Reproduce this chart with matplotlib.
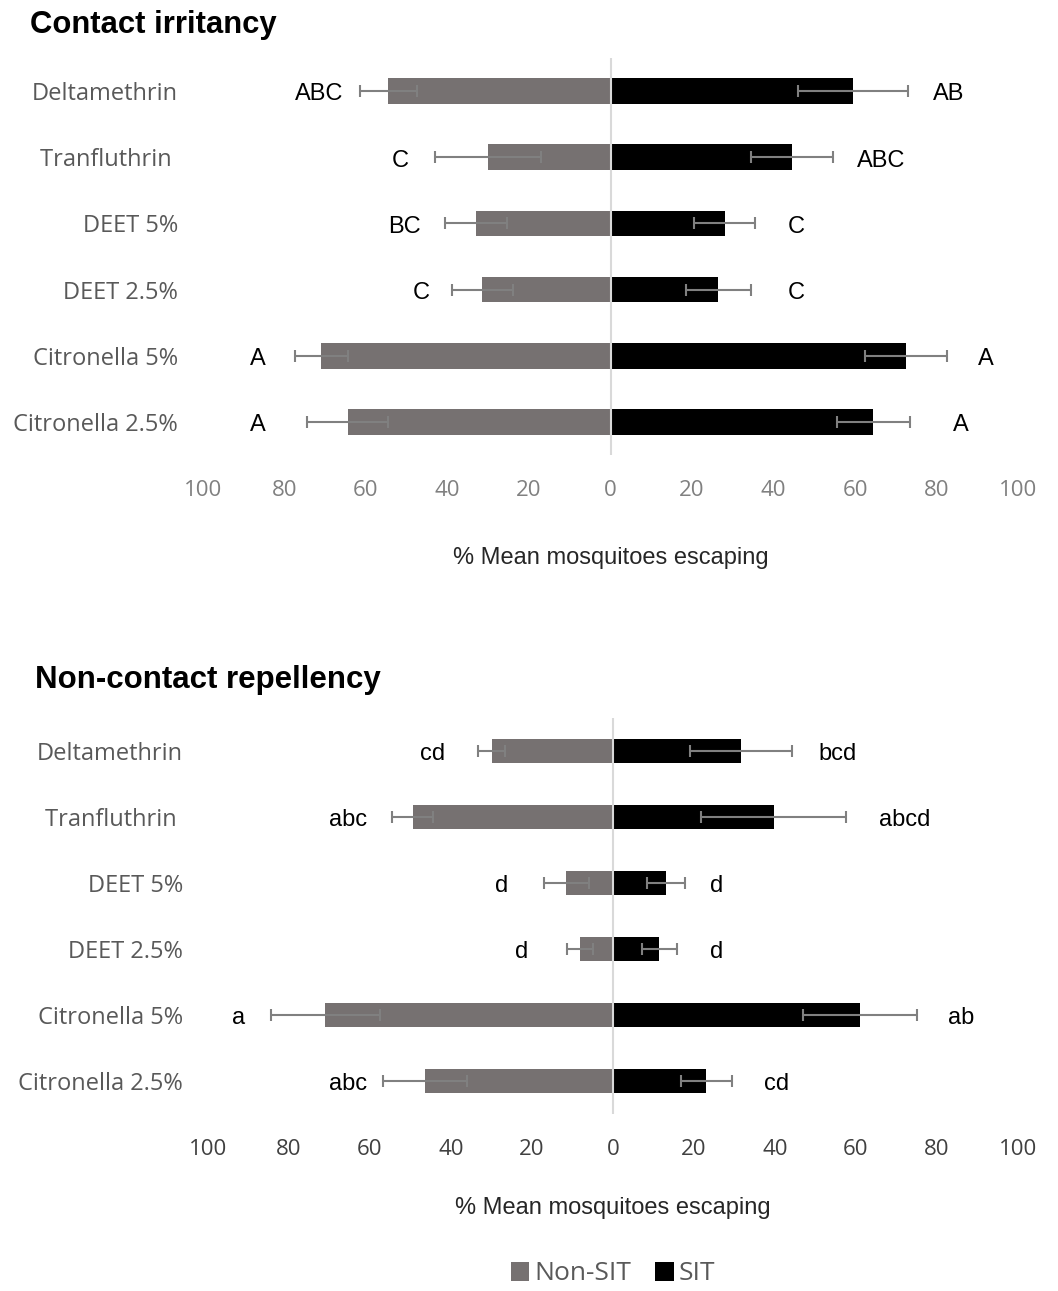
import matplotlib
matplotlib.use("Agg")
import matplotlib.pyplot as plt
from matplotlib.patches import Patch

categories = ["Deltamethrin", "Tranfluthrin ", "DEET 5%", "DEET 2.5%",
              "Citronella 5%", "Citronella 2.5%"]
ticks = [-100, -80, -60, -40, -20, 0, 20, 40, 60, 80, 100]

# Contact irritancy
contact_nonsit = [54.5, 30.0, 33.0, 31.5, 71.0, 64.5]
contact_nonsit_err = [7.0, 13.0, 7.5, 7.5, 6.5, 10.0]
contact_sit = [59.5, 44.5, 28.0, 26.5, 72.5, 64.5]
contact_sit_err = [13.5, 10.0, 7.5, 8.0, 10.0, 9.0]
contact_nonsit_letters = ["ABC", "C", "BC", "C", "A", "A"]
contact_sit_letters = ["AB", "ABC", "C", "C", "A", "A"]
contact_nonsit_letter_x = [71.5, 51.5, 50.5, 46.5, 86.5, 86.5]
contact_sit_letter_x = [83, 66.5, 45.5, 45.5, 92, 86]

# Non-contact repellency
repel_nonsit = [30.0, 49.5, 11.5, 8.2, 71.0, 46.5]
repel_nonsit_err = [3.3, 5.0, 5.6, 3.2, 13.4, 10.4]
repel_sit = [31.5, 39.7, 13.2, 11.4, 61.0, 23.0]
repel_sit_err = [12.6, 17.9, 4.7, 4.3, 14.1, 6.3]
repel_nonsit_letters = ["cd", "abc", "d", "d", "a", "abc"]
repel_sit_letters = ["bcd", "abcd", "d", "d", "ab", "cd"]
repel_nonsit_letter_x = [44.5, 65.5, 27.5, 22.5, 92.5, 65.5]
repel_sit_letter_x = [55.5, 72, 25.5, 25.5, 86, 40.5]

GREY = "#767171"
ERR = "#808080"
LAB = "#595959"
sans = ["Liberation Sans", "DejaVu Sans"]
opens = ["Open Sans", "DejaVu Sans"]

W, H = 1058, 1291
fig = plt.figure(figsize=(W / 100, H / 100), dpi=100)


def panel(rect, nonsit, nonsit_err, sit, sit_err, lt_l, lx_l, lt_r, lx_r,
          bar_h, tick_color, label_y):
    ax = fig.add_axes(rect)
    y = list(range(len(categories)))
    neg = [-v for v in nonsit]
    ax.barh(y, neg, height=bar_h, color=GREY, zorder=2)
    ax.barh(y, sit, height=bar_h, color="black", zorder=2)
    ax.errorbar(neg, y, xerr=nonsit_err, fmt="none", ecolor=ERR, elinewidth=1.5,
                capsize=4.3, capthick=1.5, zorder=3)
    ax.errorbar(sit, y, xerr=sit_err, fmt="none", ecolor=ERR, elinewidth=1.5,
                capsize=4.3, capthick=1.5, zorder=3)
    ax.axvline(0, color="#d9d9d9", lw=1.5, zorder=2.5)
    for i in y:
        ax.text(-lx_l[i], i + 0.05, lt_l[i], ha="center", va="center", fontsize=17,
                family=sans, color="black")
        ax.text(lx_r[i], i + 0.05, lt_r[i], ha="center", va="center", fontsize=17,
                family=sans, color="black")
    ax.set_xlim(-100, 100)
    ax.set_ylim(len(categories) - 0.5, -0.5)
    ax.set_yticks(y)
    ax.set_yticklabels(categories, family=opens, fontsize=17, color=LAB)
    ax.set_xticks(ticks)
    ax.set_xticklabels([str(abs(t)) for t in ticks], family=opens,
                       fontsize=16, color=tick_color)
    ax.tick_params(axis="both", length=0)
    ax.tick_params(axis="x", pad=18)
    ax.tick_params(axis="y", pad=18)
    for s in ax.spines.values():
        s.set_visible(False)
    ax.set_xlabel("% Mean mosquitoes escaping", family=sans,
                  fontsize=17, color="#262626")
    ax.xaxis.set_label_coords(0.5, label_y)
    ax.xaxis.label.set_va("center")
    return ax


# top panel: x 203..1018 px, y 58..455 px
panel([203 / W, 1 - 455 / H, 815 / W, 397 / H],
      contact_nonsit, contact_nonsit_err, contact_sit, contact_sit_err,
      contact_nonsit_letters, contact_nonsit_letter_x,
      contact_sit_letters, contact_sit_letter_x,
      0.39, "#808080", (455 - 558) / 397)

# bottom panel: x 208..1018 px, y 718..1114 px
panel([208 / W, 1 - 1114 / H, 810 / W, 396 / H],
      repel_nonsit, repel_nonsit_err, repel_sit, repel_sit_err,
      repel_nonsit_letters, repel_nonsit_letter_x,
      repel_sit_letters, repel_sit_letter_x,
      0.35, "#404040", (1114 - 1208) / 396)

fig.text(30 / W, 1 - 25 / H, "Contact irritancy", fontsize=22.3, fontweight="bold",
         family=sans, ha="left", va="center")
fig.text(35 / W, 1 - 680 / H, "Non-contact repellency", fontsize=22.5,
         fontweight="bold", family=sans, ha="left", va="center")

handles = [Patch(facecolor=GREY, edgecolor="none", label="Non-SIT"),
           Patch(facecolor="black", edgecolor="none", label="SIT")]
leg = fig.legend(handles=handles, loc="center", bbox_to_anchor=(613 / W, 1 - 1274 / H),
                 ncol=2, frameon=False, prop={"family": opens, "size": 19},
                 handlelength=0.7, handleheight=0.7, handletextpad=0.2,
                 columnspacing=0.9, borderpad=0)
for t in leg.get_texts():
    t.set_color(LAB)

fig.savefig("out.png", dpi=100)
